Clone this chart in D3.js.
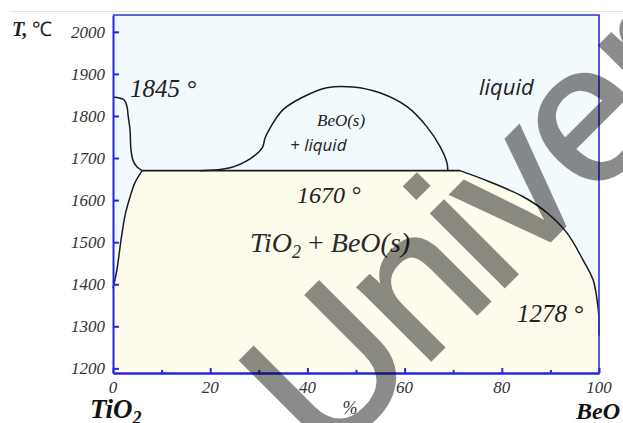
<!DOCTYPE html>
<html>
<head>
<meta charset="utf-8">
<script src="https://cdn.jsdelivr.net/npm/d3@7"></script>
<style>
  html, body { margin: 0; padding: 0; background: #fff; }
  svg { display: block; }
</style>
</head>
<body>
<svg id="chart" width="623" height="423"></svg>
<script>
// Composition axis (% BeO) and temperature axis (°C)
const xTicks = [0, 20, 40, 60, 80, 100];
const xMinorTicks = [10, 30, 50, 70, 90];
const yTicks = [1200, 1300, 1400, 1500, 1600, 1700, 1800, 1900, 2000];

// Key temperatures
const tMeltTiO2 = 1845;
const tEutectic = 1670;
const tEnd = 1278;

// Liquidus on the TiO2 side: [BeO %, T °C]
const liquidusTiO2 = [
  [0, 1845], [2.3, 1838], [2.9, 1821], [3.1, 1802], [3.5, 1767],
  [3.7, 1719], [4.1, 1695], [4.9, 1679], [6.0, 1670]
];
// Solidus on the TiO2 side
const solidusTiO2 = [
  [6.0, 1670], [4.5, 1641], [3.5, 1607], [2.5, 1565],
  [1.65, 1505], [0.8, 1434], [0, 1390]
];
// Eutectic horizontal
const eutecticX = [6.0, 71.4];
// BeO(s) + liquid dome
const dome = [
  [17.9, 1670], [24.1, 1677], [28.2, 1698], [30.7, 1724],
  [31.3, 1748], [32.7, 1779], [35.0, 1815], [39.1, 1845], [44.0, 1867],
  [49.4, 1869], [54.9, 1855], [60.5, 1822], [64.6, 1774], [67.3, 1727],
  [68.7, 1689], [68.9, 1670]
];
// Liquidus on the BeO side
const liquidusBeO = [
  [71.4, 1670], [77.6, 1643], [84.4, 1608], [89.3, 1570], [93.4, 1522],
  [96.7, 1458], [98.8, 1410], [99.6, 1363], [99.95, 1327], [100, 1278]
];

const SERIF = "Liberation Serif";
const SANS = "Open Sans";
const AXIS_BLUE = "#2626e0";

const svg = d3.select("#chart");

const x = d3.scaleLinear().domain([0, 100]).range([113, 599]);
const y = d3.scaleLinear().domain([1189, 2040]).range([373, 15]);

const line = d3.line().x(d => x(d[0])).y(d => y(d[1])).curve(d3.curveCatmullRom.alpha(0.5));

// faint page rule
svg.append("line").attr("x1", 10).attr("x2", 623).attr("y1", 11.5).attr("y2", 11.5)
  .attr("stroke", "#e4e4e4").attr("stroke-width", 1);

// plot background (liquid field)
svg.append("rect")
  .attr("x", x(0)).attr("y", y(2040))
  .attr("width", x(100) - x(0)).attr("height", y(1189) - y(2040))
  .attr("fill", "#f3fafd");

// two-solid field: eutectic line, BeO liquidus, bottom, TiO2 solidus
const solidPath = "M" + x(eutecticX[0]) + "," + y(tEutectic)
  + line(liquidusBeO).replace(/^M/, "L")
  + "L" + x(100) + "," + y(1189)
  + "L" + x(0) + "," + y(1189)
  + line(solidusTiO2.slice().reverse()).replace(/^M/, "L") + "Z";
svg.append("path").attr("d", solidPath).attr("fill", "#fdfbeb");

// phase boundaries
const g = svg.append("g").attr("fill", "none").attr("stroke", "#1a1a1a").attr("stroke-width", 1.5);
g.append("path").attr("d", line(liquidusTiO2));
g.append("path").attr("d", line(solidusTiO2));
g.append("path").attr("d", line(dome));
g.append("path").attr("d", line(liquidusBeO));
g.append("line")
  .attr("x1", x(eutecticX[0])).attr("x2", x(eutecticX[1]))
  .attr("y1", y(tEutectic)).attr("y2", y(tEutectic))
  .attr("stroke-width", 1.8);

// frame: top and right
svg.append("path")
  .attr("d", `M${x(0)},${y(2040)}H${x(100)}V${y(1189)}`)
  .attr("fill", "none").attr("stroke", "#3030d0").attr("stroke-width", 1.6);

// axes (ticks point inward); labels are set separately below
const yAxis = d3.axisLeft(y).tickValues(yTicks).tickSizeInner(-6).tickSizeOuter(0).tickFormat("");
const xAxis = d3.axisBottom(x).tickValues(xTicks).tickSizeInner(-5).tickSizeOuter(0).tickFormat("");
const xMinor = d3.axisBottom(x).tickValues(xMinorTicks).tickSizeInner(-3).tickSizeOuter(0).tickFormat("");

const ya = svg.append("g").attr("transform", `translate(${x(0)},0)`).call(yAxis);
const xa = svg.append("g").attr("transform", `translate(0,${y(1189)})`).call(xAxis);
const xm = svg.append("g").attr("transform", `translate(0,${y(1189)})`).call(xMinor);
[ya, xa, xm].forEach(a => {
  a.selectAll("path.domain").attr("stroke", AXIS_BLUE).attr("stroke-width", 2);
  a.selectAll(".tick line").attr("stroke", AXIS_BLUE).attr("stroke-width", 2);
  a.selectAll(".tick text").remove();
});

// labels
function label(txt, px, py, opts) {
  return svg.append("text").attr("x", px).attr("y", py)
    .attr("font-family", opts.family || SERIF)
    .attr("font-size", opts.size)
    .attr("font-style", opts.style || "italic")
    .attr("font-weight", opts.weight || "normal")
    .attr("fill", opts.fill || "#222")
    .attr("text-anchor", opts.anchor || "start")
    .text(txt);
}

// tick labels, placed with the scales
yTicks.forEach(v => label(String(v), x(0) - 8, y(v) + 6, { size: 17, anchor: "end", fill: "#333" }));
xTicks.forEach(v => label(String(v), x(v), y(1189) + 20, { size: 17, anchor: "middle", fill: "#333" }));

// temperature axis title
const tt = svg.append("text").attr("x", 12).attr("y", 36)
  .attr("font-family", SERIF).attr("font-size", 20).attr("fill", "#222");
tt.append("tspan").attr("font-style", "italic").attr("font-weight", "bold").text("T,");
tt.append("tspan").attr("dx", 5).text("℃");

label(tMeltTiO2 + " °", 130, 97, { size: 25 });
label(tEutectic + " °", 297, 203, { size: 24 });
label(tEnd + " °", 517, 322, { size: 25 });

label("liquid", 479, 95, { size: 22, family: SANS });
label("BeO(s)", 317, 126, { size: 17 });
label("+ liquid", 290, 151, { size: 17, family: SANS });

const mix = svg.append("text").attr("x", 250).attr("y", 252)
  .attr("font-family", SERIF).attr("font-size", 28).attr("font-style", "italic")
  .attr("fill", "#2a2a2a");
mix.append("tspan").text("TiO");
mix.append("tspan").attr("font-size", 18).attr("dy", 6).text("2");
mix.append("tspan").attr("dy", -6).attr("font-style", "normal").text(" + ");
mix.append("tspan").text("BeO(s)");

// end members and composition unit
const ti = svg.append("text").attr("x", 90).attr("y", 418)
  .attr("font-family", SERIF).attr("font-size", 27).attr("font-style", "italic")
  .attr("font-weight", "bold").attr("fill", "#111");
ti.append("tspan").text("TiO");
ti.append("tspan").attr("font-size", 18).attr("dy", 6).text("2");
label("BeO", 576, 419, { size: 24, weight: "bold", fill: "#111" });
label("%", 350, 414, { size: 18, anchor: "middle", fill: "#333" });

// watermark
svg.append("g").attr("opacity", 0.45)
  .append("text")
  .attr("transform", "translate(325,466) rotate(-45)")
  .attr("font-family", "Liberation Sans")
  .attr("font-size", 195)
  .attr("letter-spacing", -4)
  .attr("fill", "#000").attr("stroke", "#000").attr("stroke-width", 3)
  .text("Univer");
</script>
</body>
</html>
